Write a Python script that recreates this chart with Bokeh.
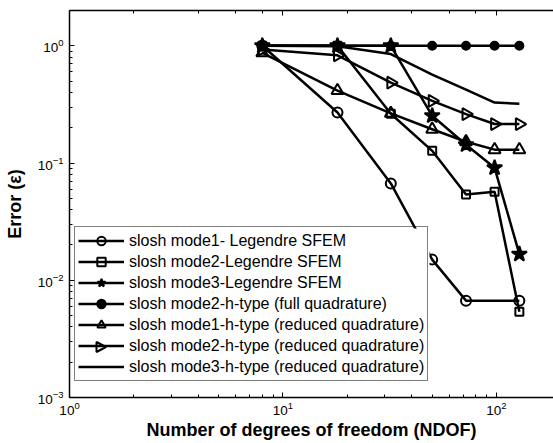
import numpy as np
from bokeh.plotting import figure
from bokeh.models import LogAxis, Legend, LegendItem, PolyAnnotation, BoxAnnotation
from bokeh.embed import file_html
from bokeh.resources import INLINE

# ---- data ----
ndof = [8, 18, 32, 50, 72, 98, 128]
ndof_m1_sfem = [8, 18, 32, 50, 72, 128]
m1_sfem = [1.0, 0.27, 0.067, 0.015, 0.0067, 0.0067]
m2_sfem = [1.0, 1.0, 0.263, 0.127, 0.054, 0.057, 0.0054]
m3_sfem = [1.0, 1.0, 1.0, 0.253, 0.143, 0.091, 0.0167]
m2_h_full = [1.0, 1.0, 1.0, 1.0, 1.0, 1.0, 1.0]
m1_h_red = [0.87, 0.415, 0.265, 0.194, 0.152, 0.13, 0.13]
m2_h_red = [0.93, 0.83, 0.485, 0.339, 0.261, 0.215, 0.215]
m3_h_red = [1.0, 0.99, 0.85, 0.567, 0.423, 0.328, 0.32]

labels = [
    "slosh mode1- Legendre SFEM",
    "slosh mode2-Legendre SFEM",
    "slosh mode3-Legendre SFEM",
    "slosh mode2-h-type (full quadrature)",
    "slosh mode1-h-type (reduced quadrature)",
    "slosh mode2-h-type (reduced quadrature)",
    "slosh mode3-h-type (reduced quadrature)",
]

FONT = "Liberation Sans"

p = figure(width=553, height=443, x_axis_type="log", y_axis_type="log",
           x_range=(1, 185), y_range=(1e-3, 2),
           output_backend="svg", toolbar_location=None,
           min_border_left=69, min_border_right=0, min_border_top=10, min_border_bottom=46)
p.outline_line_color = None
p.grid.visible = False
p.background_fill_color = "white"
p.border_fill_color = "white"

for ax in [p.xaxis[0], p.yaxis[0]]:
    ax.major_tick_in = 5
    ax.major_tick_out = 0
    ax.minor_tick_in = 3
    ax.minor_tick_out = 0
    ax.axis_line_width = 1.5
    ax.axis_line_color = "black"
    ax.major_tick_line_color = "black"
    ax.minor_tick_line_color = "black"
    ax.major_label_text_font = FONT
    ax.major_label_text_font_size = "13.5px"
    ax.major_label_text_color = "black"
    ax.axis_label_text_font = FONT
    ax.axis_label_text_font_size = "18px"
    ax.axis_label_text_font_style = "bold"
    ax.axis_label_text_color = "black"

p.xaxis.axis_label = "Number of degrees of freedom (NDOF)"
p.yaxis.axis_label = "Error (\u03b5)"
p.xaxis.major_label_standoff = 4
p.xaxis.axis_label_standoff = 2
p.yaxis.major_label_standoff = 6
p.yaxis.axis_label_standoff = 10

top = LogAxis(major_label_text_font_size="1px", major_label_text_color=None,
              major_tick_in=5, major_tick_out=0,
              minor_tick_in=3, minor_tick_out=0, axis_line_width=1.5,
              major_label_standoff=0)
p.add_layout(top, "above")

LW = 2.5
items = []

def add(x, y, label, marker=None, size=10, fill=None, angle=0.0, legend_marker=True):
    rs = []
    r = p.line(x, y, line_color="black", line_width=LW)
    rs.append(r)
    if marker is not None:
        s = p.scatter(x, y, marker=marker, size=size, line_color="black", line_width=2,
                      fill_color=fill, angle=angle)
        if legend_marker:
            rs.append(s)
    items.append(LegendItem(label=label, renderers=rs))

add(ndof_m1_sfem, m1_sfem, labels[0], "circle", 10, None)
add(ndof, m2_sfem, labels[1], "square", 8, None)
add(ndof, m3_sfem, labels[2], "star", 16, "black")
add(ndof, m2_h_full, labels[3], "circle", 8, "black")
add(ndof, m1_h_red, labels[4], "triangle", 12, None)
add(ndof, m2_h_red, labels[5], "triangle", 12, None, -np.pi / 2, legend_marker=False)
add(ndof, m3_h_red, labels[6])

# legend layout (pixels, relative to the frame's bottom-left corner)
LEG_X, LEG_Y = 5, 16
PAD, GW, GH, SP = 3, 46, 21, 0
LEG_W = 355
n_items = len(items)
leg_h = 2 * PAD + n_items * GH + (n_items - 1) * SP

# white background of the legend box (drawn below the legend's own frame)
bg = BoxAnnotation(left=LEG_X, right=LEG_X + LEG_W, bottom=LEG_Y, top=LEG_Y + leg_h,
                   left_units="screen", right_units="screen",
                   bottom_units="screen", top_units="screen",
                   fill_color="white", fill_alpha=1.0, line_color=None)
p.add_layout(bg, "center")

# right-pointing triangle marker for the legend row of "mode2-h-type (reduced)"
row = 5
cx = LEG_X + PAD + GW / 2
cy = LEG_Y + leg_h - PAD - GH / 2 - row * (GH + SP)
tri = PolyAnnotation(xs=[cx - 4.0, cx - 4.0, cx + 5.5], ys=[cy - 5.0, cy + 5.0, cy],
                     xs_units="screen", ys_units="screen",
                     fill_color=None, fill_alpha=0, line_color="black", line_width=2,
                     line_alpha=1.0)
p.add_layout(tri, "center")

legend = Legend(items=items, location=(LEG_X, LEG_Y))
legend.label_text_font = FONT
legend.label_text_font_size = "16px"
legend.label_text_color = "black"
legend.glyph_width = GW
legend.glyph_height = GH
legend.label_height = GH
legend.spacing = SP
legend.padding = PAD
legend.margin = 0
legend.label_standoff = 5
legend.border_line_color = "black"
legend.border_line_width = 1.5
legend.background_fill_alpha = 0.0
p.add_layout(legend, "center")

open("out.html", "w").write(file_html(p, INLINE))
